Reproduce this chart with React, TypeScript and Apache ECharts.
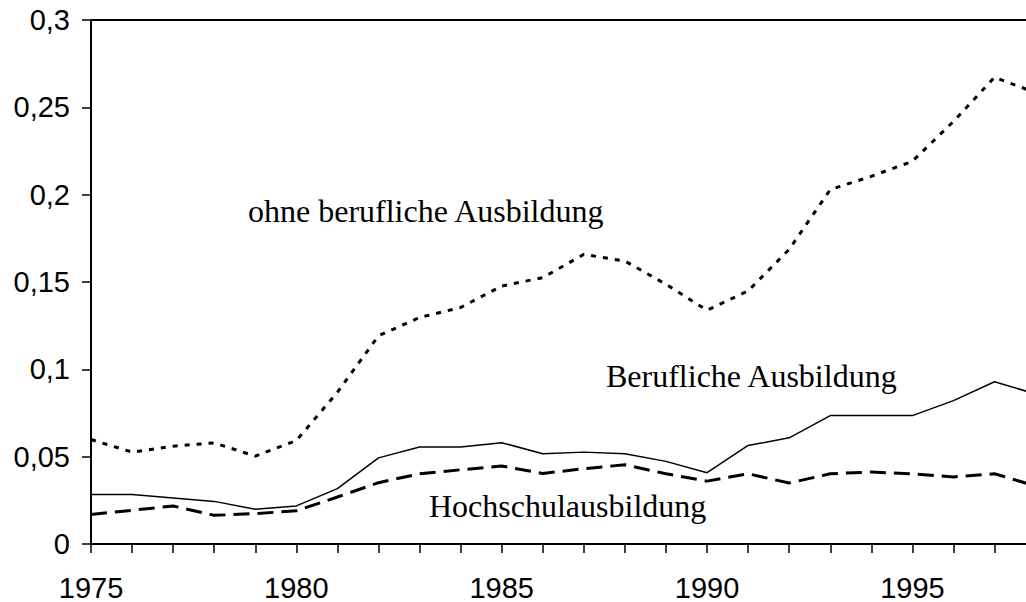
import React, { useEffect, useRef } from "react";
import * as echarts from "echarts";

const years = [
  "1975", "1976", "1977", "1978", "1979", "1980", "1981", "1982", "1983", "1984", "1985", "1986",
  "1987", "1988", "1989", "1990", "1991", "1992", "1993", "1994", "1995", "1996", "1997", "1998",
];

const ohneBeruflich = [
  0.0598, 0.0526, 0.056, 0.0579, 0.0503, 0.0592, 0.0869, 0.1192, 0.1297, 0.1354, 0.1477, 0.1525,
  0.1658, 0.162, 0.1487, 0.1338, 0.1449, 0.1687, 0.2029, 0.2105, 0.2191, 0.2419, 0.2672, 0.2584,
];

const beruflich = [
  0.0283, 0.0283, 0.0264, 0.0244, 0.0199, 0.0218, 0.0317, 0.0493, 0.0555, 0.0555, 0.058, 0.0517,
  0.0526, 0.0517, 0.0473, 0.0408, 0.0564, 0.0608, 0.0735, 0.0735, 0.0735, 0.0821, 0.0929, 0.0859,
];

const hochschul = [
  0.0169, 0.0193, 0.0218, 0.0164, 0.0174, 0.019, 0.0269, 0.0351, 0.0402, 0.0425, 0.0446, 0.0404,
  0.0431, 0.0454, 0.0402, 0.036, 0.0402, 0.0349, 0.0402, 0.0412, 0.0402, 0.0384, 0.0402, 0.0332,
];

const seriesLabels = ["ohne berufliche Ausbildung", "Berufliche Ausbildung", "Hochschulausbildung"];

const CHART_W = 1100;
const CHART_H = 602;

export default function App() {
  const ref = useRef<HTMLDivElement>(null);

  useEffect(() => {
    if (!ref.current) return;
    const chart = echarts.init(ref.current, null, { renderer: "svg" });
    const serif = "'Liberation Serif', 'Times New Roman', serif";
    const sans = "'Liberation Sans', Arial, sans-serif";
    chart.setOption({
      animation: false,
      backgroundColor: "#ffffff",
      grid: {
        left: 91,
        right: CHART_W - 1035.6,
        top: 20,
        bottom: CHART_H - 545.5,
        show: true,
        borderColor: "#000",
        borderWidth: 2,
        backgroundColor: "transparent",
      },
      xAxis: {
        type: "category",
        data: years,
        boundaryGap: false,
        axisLine: { lineStyle: { color: "#000", width: 2 } },
        axisTick: { show: true, interval: 0, length: 9, lineStyle: { color: "#000", width: 1.5 } },
        axisLabel: {
          interval: 4,
          color: "#000",
          fontFamily: sans,
          fontSize: 29,
          margin: 29,
        },
        splitLine: { show: false },
      },
      yAxis: {
        type: "value",
        min: 0,
        max: 0.3,
        interval: 0.05,
        axisLine: { show: true, lineStyle: { color: "#000", width: 2 } },
        axisTick: { show: true, length: 9, lineStyle: { color: "#000", width: 1.5 } },
        axisLabel: {
          color: "#000",
          fontFamily: sans,
          fontSize: 29,
          margin: 21,
          formatter: (v: number) => String(Math.round(v * 100) / 100).replace(".", ","),
        },
        splitLine: { show: false },
      },
      series: [
        {
          name: seriesLabels[0],
          type: "line",
          data: ohneBeruflich,
          symbol: "none",
          lineStyle: { color: "#000", width: 3, type: [5, 7] },
        },
        {
          name: seriesLabels[1],
          type: "line",
          data: beruflich,
          symbol: "none",
          lineStyle: { color: "#000", width: 1.5, type: "solid" },
        },
        {
          name: seriesLabels[2],
          type: "line",
          data: hochschul,
          symbol: "none",
          lineStyle: { color: "#000", width: 3, type: [16, 8] },
        },
      ],
      graphic: [
        {
          type: "text",
          left: 248,
          top: 195,
          style: { text: seriesLabels[0], font: `32px ${serif}`, fill: "#000" },
        },
        {
          type: "text",
          left: 606,
          top: 360,
          style: { text: seriesLabels[1], font: `32px ${serif}`, fill: "#000" },
        },
        {
          type: "text",
          left: 429,
          top: 490,
          style: { text: seriesLabels[2], font: `32px ${serif}`, fill: "#000" },
        },
      ],
    });
    return () => chart.dispose();
  }, []);

  return (
    <div
      style={{
        position: "fixed",
        left: 0,
        top: 0,
        width: 1026,
        height: 602,
        overflow: "hidden",
        background: "#fff",
      }}
    >
      <div ref={ref} style={{ width: CHART_W, height: CHART_H }} />
    </div>
  );
}
